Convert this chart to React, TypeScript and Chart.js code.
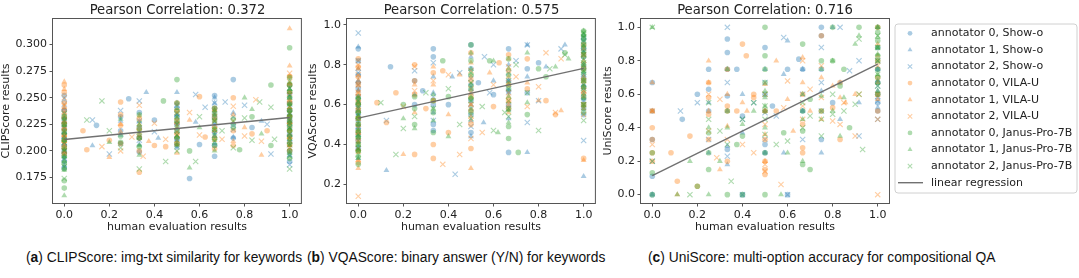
import React, { useEffect, useRef } from 'react';
import { Chart, registerables } from 'chart.js';
import { drawPoint } from 'chart.js/helpers';

Chart.register(...registerables);

// ---------------- data ----------------
const MODELS = ['Show-o', 'VILA-U', 'Janus-Pro-7B'];
const ANNOTATORS = [0, 1, 2];
const REG_LABEL = 'linear regression';
const X_TITLE = 'human evaluation results';
const X_RANGE = [-0.05, 1.05];
const X_TICKS = [0, 0.2, 0.4, 0.6, 0.8, 1.0];
const REG_X = [0, 1];

// Panel (a) CLIPScore
const CLIP_TITLE = 'Pearson Correlation: 0.372';
const CLIP_Y_TITLE = 'CLIPScore results';
const CLIP_Y_RANGE = [0.151, 0.324];
const CLIP_Y_TICKS = [0.175, 0.2, 0.225, 0.25, 0.275, 0.3];
const CLIP_REG = [0.2107, 0.2314];
const CLIP_SHOWO_A0 = [[0,0.252],[0,0.238],[0,0.226],[0,0.221],[0,0.212],[0,0.205],[0,0.197],[0,0.184],[0.143,0.224],[0.25,0.232],[0.25,0.219],[0.286,0.249],[0.333,0.236],[0.333,0.222],[0.333,0.199],[0.4,0.229],[0.5,0.241],[0.5,0.226],[0.5,0.212],[0.556,0.174],[0.6,0.206],[0.667,0.252],[0.667,0.231],[0.667,0.218],[0.667,0.195],[0.75,0.267],[0.75,0.225],[0.75,0.212],[0.833,0.222],[1,0.262],[1,0.245],[1,0.232],[1,0.224],[1,0.208],[1,0.19],[0,0.23],[0,0.216],[0,0.2],[0,0.19],[0.5,0.232],[0.5,0.205],[0.667,0.24],[0.667,0.205],[1,0.254],[1,0.238],[1,0.228],[1,0.215],[1,0.2],[0.333,0.212],[0.25,0.207]];
const CLIP_SHOWO_A1 = [[0,0.248],[0,0.232],[0,0.218],[0,0.207],[0,0.194],[0.125,0.205],[0.25,0.228],[0.333,0.215],[0.333,0.206],[0.364,0.255],[0.417,0.212],[0.5,0.255],[0.5,0.234],[0.5,0.219],[0.5,0.203],[0.583,0.227],[0.667,0.245],[0.667,0.226],[0.667,0.207],[0.75,0.236],[0.75,0.213],[0.875,0.228],[1,0.258],[1,0.24],[1,0.228],[1,0.215],[1,0.196],[0,0.24],[0,0.225],[0,0.212],[0,0.2],[0,0.186],[0.5,0.245],[0.5,0.226],[0.5,0.21],[0.667,0.25],[0.667,0.235],[0.667,0.214],[1,0.25],[1,0.234],[1,0.221],[1,0.205],[0.333,0.228],[0.25,0.215]];
const CLIP_SHOWO_A2 = [[0,0.244],[0,0.229],[0,0.214],[0,0.2],[0.125,0.229],[0.2,0.197],[0.25,0.238],[0.333,0.247],[0.333,0.228],[0.4,0.218],[0.5,0.243],[0.5,0.222],[0.5,0.208],[0.583,0.253],[0.625,0.241],[0.667,0.235],[0.667,0.215],[0.714,0.246],[0.75,0.22],[0.8,0.243],[0.9,0.225],[0.917,0.197],[1,0.252],[1,0.236],[1,0.219],[1,0.187],[0,0.236],[0,0.221],[0,0.207],[0,0.193],[0.5,0.235],[0.5,0.215],[0.667,0.245],[0.667,0.225],[1,0.244],[1,0.228],[1,0.212],[1,0.196],[0.333,0.21],[0.75,0.232]];
const CLIP_VILAU_A0 = [[0,0.262],[0,0.245],[0,0.231],[0,0.22],[0,0.209],[0,0.198],[0.083,0.219],[0.1,0.201],[0.2,0.21],[0.25,0.246],[0.25,0.224],[0.25,0.207],[0.333,0.18],[0.333,0.221],[0.333,0.212],[0.4,0.205],[0.45,0.204],[0.5,0.238],[0.5,0.216],[0.6,0.251],[0.625,0.213],[0.667,0.24],[0.667,0.222],[0.667,0.202],[0.75,0.25],[0.75,0.219],[0.75,0.205],[0.833,0.216],[0.9,0.219],[1,0.27],[1,0.255],[1,0.238],[1,0.226],[1,0.212],[1,0.2],[0,0.255],[0,0.238],[0,0.226],[0,0.214],[0,0.204],[0.5,0.245],[0.5,0.226],[0.5,0.207],[0.667,0.232],[0.667,0.212],[1,0.262],[1,0.246],[1,0.232],[1,0.219],[1,0.206],[0.333,0.23],[0.333,0.2],[0.25,0.234]];
const CLIP_VILAU_A1 = [[0,0.265],[0,0.241],[0,0.227],[0,0.215],[0,0.203],[0.2,0.194],[0.25,0.218],[0.333,0.225],[0.375,0.209],[0.5,0.23],[0.5,0.214],[0.5,0.198],[0.556,0.229],[0.667,0.238],[0.667,0.219],[0.75,0.234],[0.75,0.209],[0.8,0.222],[0.875,0.196],[1,0.315],[1,0.28],[1,0.263],[1,0.247],[1,0.234],[1,0.22],[1,0.205],[0,0.258],[0,0.235],[0,0.222],[0,0.209],[0,0.197],[0.5,0.222],[0.5,0.206],[0.667,0.229],[0.667,0.21],[1,0.27],[1,0.255],[1,0.241],[1,0.227],[1,0.213],[0.333,0.233],[0.333,0.215],[0.25,0.225]];
const CLIP_VILAU_A2 = [[0,0.25],[0,0.233],[0,0.218],[0,0.206],[0.167,0.204],[0.25,0.2],[0.3,0.213],[0.333,0.243],[0.35,0.195],[0.4,0.226],[0.45,0.211],[0.5,0.228],[0.5,0.21],[0.556,0.236],[0.6,0.215],[0.667,0.228],[0.7,0.211],[0.75,0.242],[0.8,0.214],[0.85,0.248],[0.875,0.209],[1,0.273],[1,0.25],[1,0.231],[1,0.217],[1,0.203],[0,0.243],[0,0.225],[0,0.212],[0,0.2],[0.5,0.236],[0.5,0.218],[0.667,0.236],[0.667,0.22],[1,0.265],[1,0.242],[1,0.224],[1,0.21],[0.333,0.218],[0.75,0.228]];
const CLIP_JANUS_A0 = [[0,0.225],[0,0.21],[0,0.195],[0,0.183],[0,0.165],[0.25,0.214],[0.25,0.208],[0.333,0.234],[0.333,0.22],[0.333,0.204],[0.44,0.247],[0.5,0.267],[0.5,0.237],[0.5,0.219],[0.5,0.207],[0.556,0.2],[0.667,0.24],[0.667,0.229],[0.667,0.211],[0.75,0.23],[0.778,0.201],[0.833,0.232],[0.917,0.262],[0.917,0.205],[1,0.269],[1,0.256],[1,0.244],[1,0.233],[1,0.223],[1,0.214],[1,0.193],[1,0.297],[0,0.232],[0,0.218],[0,0.203],[0,0.188],[0,0.172],[0.5,0.245],[0.5,0.228],[0.5,0.212],[0.667,0.235],[0.667,0.22],[0.667,0.205],[1,0.262],[1,0.25],[1,0.238],[1,0.228],[1,0.219],[1,0.207],[1,0.2],[0.333,0.212],[0.75,0.222]];
const CLIP_JANUS_A1 = [[0,0.23],[0,0.217],[0,0.201],[0,0.19],[0,0.158],[0.2,0.208],[0.25,0.23],[0.333,0.217],[0.333,0.196],[0.5,0.232],[0.5,0.213],[0.556,0.184],[0.6,0.222],[0.667,0.233],[0.667,0.214],[0.667,0.2],[0.75,0.226],[0.8,0.25],[0.833,0.239],[0.875,0.216],[1,0.265],[1,0.25],[1,0.238],[1,0.226],[1,0.211],[1,0.198],[0,0.224],[0,0.21],[0,0.195],[0,0.182],[0.5,0.24],[0.5,0.222],[0.5,0.205],[0.667,0.238],[0.667,0.222],[1,0.258],[1,0.244],[1,0.232],[1,0.22],[1,0.205],[0.333,0.224],[0.333,0.205]];
const CLIP_JANUS_A2 = [[0,0.235],[0,0.222],[0,0.208],[0,0.192],[0,0.174],[0.1,0.229],[0.167,0.247],[0.2,0.219],[0.25,0.203],[0.333,0.183],[0.333,0.226],[0.45,0.19],[0.5,0.225],[0.5,0.2],[0.583,0.19],[0.6,0.232],[0.667,0.209],[0.7,0.219],[0.75,0.203],[0.8,0.231],[0.833,0.21],[0.867,0.246],[0.917,0.241],[0.933,0.211],[1,0.259],[1,0.242],[1,0.229],[1,0.216],[1,0.183],[0,0.228],[0,0.214],[0,0.2],[0,0.185],[0.5,0.232],[0.5,0.215],[0.667,0.228],[0.667,0.217],[1,0.253],[1,0.235],[1,0.222],[1,0.209],[1,0.195],[0.333,0.213]];

// Panel (b) VQAScore
const VQA_TITLE = 'Pearson Correlation: 0.575';
const VQA_Y_TITLE = 'VQAScore results';
const VQA_Y_RANGE = [0.106, 1.03];
const VQA_Y_TICKS = [0.2, 0.4, 0.6, 0.8, 1.0];
const VQA_REG = [0.532, 0.782];
const VQA_SHOWO_A0 = [[0,0.88],[0,0.75],[0,0.68],[0,0.6],[0,0.52],[0,0.45],[0,0.38],[0.143,0.79],[0.25,0.72],[0.25,0.6],[0.286,0.67],[0.333,0.88],[0.333,0.84],[0.333,0.5],[0.333,0.47],[0.4,0.6],[0.5,0.9],[0.5,0.78],[0.5,0.62],[0.5,0.55],[0.5,0.46],[0.533,0.71],[0.6,0.65],[0.667,0.88],[0.667,0.72],[0.667,0.6],[0.667,0.36],[0.75,0.78],[0.75,0.66],[0.8,0.81],[1,0.93],[1,0.84],[1,0.73],[1,0.58],[1,0.55],[0,0.82],[0,0.71],[0,0.64],[0,0.56],[0,0.48],[0,0.42],[1,0.88],[1,0.78],[1,0.69],[1,0.63],[0.5,0.7],[0.667,0.67],[0.333,0.6]];
const VQA_SHOWO_A1 = [[0,0.89],[0,0.72],[0,0.62],[0,0.55],[0,0.43],[0,0.33],[0.125,0.27],[0.25,0.65],[0.333,0.74],[0.333,0.56],[0.417,0.74],[0.5,0.84],[0.5,0.68],[0.5,0.52],[0.5,0.44],[0.556,0.51],[0.6,0.72],[0.667,0.8],[0.667,0.66],[0.667,0.53],[0.75,0.9],[0.75,0.36],[0.75,0.74],[0.833,0.79],[0.917,0.9],[1,0.95],[1,0.86],[1,0.7],[1,0.6],[1,0.24],[0,0.78],[0,0.67],[0,0.58],[0,0.5],[0,0.38],[1,0.9],[1,0.8],[1,0.75],[1,0.65],[0.5,0.6],[0.667,0.72],[0.333,0.66]];
const VQA_SHOWO_A2 = [[0,0.96],[0,0.82],[0,0.7],[0,0.58],[0,0.49],[0,0.4],[0.125,0.52],[0.25,0.77],[0.333,0.81],[0.333,0.64],[0.43,0.25],[0.45,0.76],[0.5,0.73],[0.5,0.58],[0.5,0.49],[0.56,0.84],[0.583,0.66],[0.6,0.8],[0.667,0.76],[0.667,0.58],[0.7,0.82],[0.75,0.51],[0.75,0.9],[0.8,0.62],[0.9,0.88],[1,0.92],[1,0.8],[1,0.67],[1,0.42],[0,0.76],[0,0.64],[0,0.54],[0,0.45],[1,0.87],[1,0.75],[1,0.62],[0.5,0.66],[0.667,0.68],[0.333,0.52]];
const VQA_VILAU_A0 = [[0,0.83],[0,0.74],[0,0.65],[0,0.57],[0,0.5],[0,0.42],[0,0.31],[0.083,0.61],[0.125,0.51],[0.167,0.66],[0.25,0.65],[0.25,0.35],[0.25,0.8],[0.3,0.58],[0.333,0.4],[0.333,0.33],[0.333,0.76],[0.375,0.77],[0.4,0.46],[0.5,0.86],[0.5,0.64],[0.5,0.5],[0.5,0.38],[0.6,0.59],[0.625,0.81],[0.667,0.85],[0.667,0.7],[0.667,0.62],[0.75,0.83],[0.75,0.68],[0.833,0.62],[0.875,0.55],[1,0.9],[1,0.78],[1,0.66],[1,0.33],[0,0.79],[0,0.7],[0,0.61],[0,0.53],[0,0.46],[0,0.37],[1,0.85],[1,0.72],[1,0.6],[0.5,0.72],[0.5,0.57],[0.667,0.77],[0.667,0.58],[0.25,0.72],[0.333,0.62]];
const VQA_VILAU_A1 = [[0,0.78],[0,0.67],[0,0.59],[0,0.46],[0,0.36],[0,0.28],[0.2,0.35],[0.25,0.7],[0.25,0.56],[0.333,0.79],[0.333,0.62],[0.4,0.55],[0.45,0.75],[0.5,0.81],[0.5,0.66],[0.5,0.28],[0.5,0.54],[0.583,0.76],[0.667,0.83],[0.667,0.64],[0.667,0.56],[0.75,0.71],[0.8,0.62],[0.9,0.57],[1,0.88],[1,0.74],[1,0.64],[1,0.32],[0,0.72],[0,0.63],[0,0.54],[0,0.41],[0,0.32],[1,0.82],[1,0.69],[1,0.58],[0.5,0.74],[0.5,0.6],[0.667,0.74],[0.667,0.6],[0.333,0.7]];
const VQA_VILAU_A2 = [[0,0.8],[0,0.7],[0,0.61],[0,0.53],[0,0.44],[0,0.14],[0.2,0.59],[0.25,0.79],[0.25,0.67],[0.333,0.72],[0.375,0.3],[0.4,0.75],[0.45,0.35],[0.5,0.77],[0.5,0.6],[0.5,0.43],[0.55,0.46],[0.6,0.7],[0.667,0.79],[0.667,0.66],[0.7,0.74],[0.75,0.59],[0.8,0.69],[0.833,0.86],[0.875,0.56],[0.9,0.83],[1,0.85],[1,0.72],[1,0.55],[0,0.75],[0,0.66],[0,0.57],[0,0.48],[0,0.38],[1,0.8],[1,0.67],[1,0.6],[0.5,0.68],[0.5,0.52],[0.667,0.71],[0.667,0.62]];
const VQA_JANUS_A0 = [[0,0.6],[0,0.53],[0,0.47],[0,0.4],[0,0.34],[0.2,0.6],[0.25,0.5],[0.25,0.64],[0.333,0.56],[0.333,0.46],[0.375,0.82],[0.4,0.64],[0.5,0.9],[0.5,0.75],[0.5,0.63],[0.5,0.56],[0.583,0.82],[0.667,0.83],[0.667,0.68],[0.667,0.49],[0.667,0.43],[0.71,0.36],[0.75,0.55],[0.8,0.78],[0.833,0.74],[0.917,0.86],[1,0.97],[1,0.93],[1,0.87],[1,0.8],[1,0.72],[1,0.64],[1,0.6],[0,0.63],[0,0.56],[0,0.5],[0,0.44],[0,0.37],[0,0.3],[1,0.95],[1,0.9],[1,0.84],[1,0.77],[1,0.69],[1,0.56],[0.5,0.82],[0.5,0.68],[0.667,0.75],[0.667,0.58],[0.333,0.62],[0.25,0.58]];
const VQA_JANUS_A1 = [[0,0.64],[0,0.57],[0,0.5],[0,0.44],[0,0.37],[0.2,0.53],[0.25,0.48],[0.333,0.65],[0.333,0.52],[0.4,0.44],[0.5,0.86],[0.5,0.7],[0.5,0.58],[0.6,0.82],[0.62,0.46],[0.667,0.78],[0.667,0.64],[0.667,0.51],[0.75,0.61],[0.75,0.86],[0.875,0.79],[0.933,0.83],[1,0.95],[1,0.89],[1,0.82],[1,0.76],[1,0.68],[1,0.58],[0,0.61],[0,0.54],[0,0.47],[0,0.4],[0,0.33],[1,0.97],[1,0.92],[1,0.86],[1,0.79],[1,0.72],[1,0.63],[0.5,0.78],[0.5,0.64],[0.667,0.7],[0.667,0.57],[0.333,0.58]];
const VQA_JANUS_A2 = [[0,0.62],[0,0.55],[0,0.42],[0,0.35],[0.1,0.61],[0.167,0.35],[0.2,0.48],[0.25,0.54],[0.3,0.66],[0.333,0.58],[0.4,0.68],[0.45,0.5],[0.5,0.71],[0.5,0.53],[0.55,0.59],[0.6,0.47],[0.65,0.56],[0.667,0.62],[0.7,0.8],[0.75,0.66],[0.8,0.47],[0.85,0.78],[0.917,0.85],[1,0.94],[1,0.85],[1,0.77],[1,0.7],[1,0.52],[0,0.59],[0,0.52],[0,0.45],[0,0.38],[1,0.96],[1,0.9],[1,0.81],[1,0.74],[1,0.66],[1,0.6],[0.5,0.76],[0.5,0.62],[0.667,0.72],[0.667,0.54]];

// Panel (c) UniScore
const UNI_TITLE = 'Pearson Correlation: 0.716';
const UNI_Y_TITLE = 'UniScore results';
const UNI_Y_RANGE = [-0.05, 1.05];
const UNI_Y_TICKS = [0, 0.2, 0.4, 0.6, 0.8, 1.0];
const UNI_REG = [0.113, 0.78];
const UNI_SHOWO_A0 = [[0,0.67],[0,0.33],[0,0.11],[0.133,0.45],[0.2,0.6],[0.25,0.75],[0.25,0.63],[0.333,0.93],[0.333,0.85],[0.333,0.59],[0.333,0.27],[0.375,0.75],[0.4,0.47],[0.4,0.0],[0.5,0.88],[0.5,0.3],[0.5,0.25],[0.533,0.53],[0.6,0.75],[0.65,0.81],[0.667,0.75],[0.75,1.0],[0.75,0.95],[0.8,0.55],[0.75,0.33],[1,0.6],[1,0.75],[1,0.5],[0,0.0],[0,0.5],[1,0.88],[1,0.67],[1,0.55],[0.5,0.6],[0.25,0.5],[0.667,0.5],[0.333,0.75],[0.75,0.75],[0.6,0.0]];
const UNI_SHOWO_A1 = [[0,0.0],[0.25,0.55],[0.333,0.29],[0.4,0.37],[0.5,0.25],[0.5,0.5],[0.583,0.25],[0.6,0.92],[0.667,0.75],[0.75,0.62],[0.8,1.0],[0.833,0.45],[0.917,0.55],[1,0.68],[1,0.58],[1,0.52],[0.583,0.72],[0.333,0.18],[1,1.0],[1,0.75],[1,0.62],[0.5,0.75],[0.667,0.5],[0.333,0.5],[0.25,0.25],[0.75,0.25],[0.833,0.67],[0.4,0.6]];
const UNI_SHOWO_A2 = [[0,0.2],[0.125,0.5],[0.333,1.0],[0.333,0.23],[0.4,0.45],[0.5,0.49],[0.5,0.33],[0.55,0.47],[0.583,0.94],[0.6,0.0],[0.667,0.6],[0.75,0.88],[0.75,0.5],[0.833,1.0],[0.875,0.74],[0.917,0.35],[1,0.56],[1,0.45],[0.45,0.55],[1,0.8],[1,0.65],[0.5,0.67],[0.667,0.33],[0.333,0.67],[0.25,0.33],[0.75,0.67],[0.4,0.0],[0.917,0.8],[0.2,0.55]];
const UNI_VILAU_A0 = [[0,0.4],[0,0.33],[0,0.25],[0.083,0.25],[0.111,0.08],[0.167,0.35],[0.2,0.05],[0.25,0.67],[0.25,0.58],[0.25,0.48],[0.333,0.53],[0.333,0.75],[0.333,0.5],[0.375,0.5],[0.4,0.9],[0.417,0.83],[0.45,0.58],[0.5,0.2],[0.5,0.15],[0.5,0.12],[0.55,0.5],[0.667,0.28],[0.667,0.25],[0.75,0.95],[0.8,0.52],[0.833,0.67],[1,0.5],[1,0.7],[0.45,0.6],[0,0.2],[0,0.5],[1,1.0],[1,0.6],[1,0.8],[0.5,0.5],[0.5,0.33],[0.667,0.6],[0.667,0.42],[0.25,0.33],[0.333,0.2],[0.75,0.5],[0.833,0.33]];
const UNI_VILAU_A1 = [[0,0.5],[0.111,0.0],[0.25,0.5],[0.25,0.8],[0.333,0.41],[0.4,0.55],[0.42,0.5],[0.5,0.66],[0.5,0.36],[0.55,0.8],[0.625,0.38],[0.667,0.82],[0.7,0.5],[0.75,0.7],[0.8,0.65],[0.857,0.55],[0.9,0.6],[1,0.83],[1,0.57],[0.3,0.15],[0,0.67],[1,0.9],[1,0.67],[0.5,0.5],[0.5,0.2],[0.667,0.67],[0.333,0.6],[0.25,0.67],[0.75,0.45],[0.833,0.58],[0.6,0.57]];
const UNI_VILAU_A2 = [[0,0.5],[0.25,0.38],[0.286,0.22],[0.3,0.57],[0.4,0.3],[0.5,0.18],[0.571,0.06],[0.583,0.52],[0.6,0.68],[0.667,0.53],[0.7,0.63],[0.75,0.77],[0.8,0.44],[0.85,0.55],[0.9,0.35],[0.917,0.6],[1,0.45],[1,0.0],[0.667,0.8],[0.5,0.14],[0,0.3],[1,0.77],[1,0.6],[0.5,0.6],[0.5,0.42],[0.667,0.45],[0.333,0.33],[0.25,0.6],[0.75,0.58],[0.833,0.42],[0.45,0.25]];
const UNI_JANUS_A0 = [[0,0.0],[0,0.13],[0.2,0.05],[0.25,0.15],[0.25,0.25],[0.333,0.0],[0.375,0.3],[0.4,0.35],[0.4,0.0],[0.5,1.0],[0.5,0.83],[0.5,0.5],[0.5,0.0],[0.583,0.37],[0.667,0.38],[0.667,0.18],[0.7,0.15],[0.75,0.5],[0.8,0.8],[0.833,0.65],[0.875,0.4],[0.917,1.0],[1,1.0],[1,0.92],[1,0.83],[1,0.75],[1,0.67],[0.85,0.75],[0.7,0.57],[0,0.25],[1,0.97],[1,0.88],[1,0.8],[1,0.7],[1,0.6],[0.5,0.67],[0.5,0.25],[0.5,0.75],[0.667,0.5],[0.667,0.9],[0.75,0.8],[0.333,0.5],[0.25,0.37],[0.8,1.0]];
const UNI_JANUS_A1 = [[0,1.0],[0.111,0.0],[0.25,0.0],[0.3,0.2],[0.333,0.75],[0.4,0.42],[0.45,0.5],[0.5,0.53],[0.5,0.58],[0.571,0.0],[0.6,0.25],[0.667,0.45],[0.667,0.2],[0.75,0.59],[0.8,0.8],[0.833,0.35],[0.85,0.58],[0.9,0.9],[1,0.94],[1,0.88],[1,0.62],[0.167,0.2],[1,1.0],[1,0.84],[1,0.72],[0.5,0.62],[0.5,0.4],[0.667,0.6],[0.75,0.75],[0.333,0.4],[0.25,0.4],[0.8,0.5],[0.917,0.95]];
const UNI_JANUS_A2 = [[0,1.0],[0,0.2],[0.167,0.0],[0.25,0.55],[0.3,0.38],[0.35,0.08],[0.4,0.45],[0.45,0.55],[0.5,0.45],[0.5,0.53],[0.55,0.3],[0.6,0.32],[0.667,0.4],[0.7,0.47],[0.75,0.35],[0.8,0.48],[0.85,0.5],[0.9,0.54],[0.917,0.93],[0.933,0.27],[1,0.88],[1,0.72],[1,0.95],[1,0.8],[1,0.65],[0.5,0.6],[0.5,0.36],[0.667,0.55],[0.75,0.45],[0.333,0.3],[0.25,0.45],[0.8,0.6],[0.917,0.6]];

const CAPTIONS = [
  ['a', ' CLIPScore: img-txt similarity for keywords'],
  ['b', ' VQAScore: binary answer (Y/N) for keywords'],
  ['c', ' UniScore: multi-option accuracy for compositional QA'],
];

// ---------------- styles ----------------
const COLORS = ['rgba(31,119,180,0.38)', 'rgba(255,127,14,0.38)', 'rgba(44,160,44,0.38)'];
const MARKERS = ['circle', 'triangle', 'crossRot'];
const MARKER_RADIUS = [2.8, 3.4, 3.7];
const TEXT = '#222';
const SPINE = '#555';
const FONT = '"DejaVu Sans", sans-serif';

const PANELS = [
  { title: CLIP_TITLE, yTitle: CLIP_Y_TITLE, yRange: CLIP_Y_RANGE, yTicks: CLIP_Y_TICKS, yDigits: 3, reg: CLIP_REG,
    series: [CLIP_SHOWO_A0, CLIP_SHOWO_A1, CLIP_SHOWO_A2, CLIP_VILAU_A0, CLIP_VILAU_A1, CLIP_VILAU_A2, CLIP_JANUS_A0, CLIP_JANUS_A1, CLIP_JANUS_A2],
    left: 0, width: 306, yAxisWidth: 53, padRight: 4, legend: false },
  { title: VQA_TITLE, yTitle: VQA_Y_TITLE, yRange: VQA_Y_RANGE, yTicks: VQA_Y_TICKS, yDigits: 1, reg: VQA_REG,
    series: [VQA_SHOWO_A0, VQA_SHOWO_A1, VQA_SHOWO_A2, VQA_VILAU_A0, VQA_VILAU_A1, VQA_VILAU_A2, VQA_JANUS_A0, VQA_JANUS_A1, VQA_JANUS_A2],
    left: 307, width: 293, yAxisWidth: 40, padRight: 4, legend: false },
  { title: UNI_TITLE, yTitle: UNI_Y_TITLE, yRange: UNI_Y_RANGE, yTicks: UNI_Y_TICKS, yDigits: 1, reg: UNI_REG,
    series: [UNI_SHOWO_A0, UNI_SHOWO_A1, UNI_SHOWO_A2, UNI_VILAU_A0, UNI_VILAU_A1, UNI_VILAU_A2, UNI_JANUS_A0, UNI_JANUS_A1, UNI_JANUS_A2],
    left: 602, width: 477, yAxisWidth: 39, padRight: 190, legend: true },
];
const CANVAS_H = 234;
const PAD_TOP = 19;
const X_AXIS_H = 31;

const framePlugin = {
  id: 'frame',
  afterDatasetsDraw(chart: any) {
    const { ctx, chartArea: a } = chart;
    ctx.save();
    ctx.strokeStyle = SPINE;
    ctx.lineWidth = 1;
    ctx.strokeRect(a.left - 0.5, a.top - 0.5, a.right - a.left + 1, a.bottom - a.top + 1);
    ctx.restore();
  },
};

const boxLegendPlugin = {
  id: 'boxLegend',
  afterDraw(chart: any, _args: any, opts: any) {
    if (!opts || !opts.display) return;
    const ctx = chart.ctx;
    const { x, y, w, h, r } = opts.box;
    ctx.save();
    ctx.beginPath();
    ctx.moveTo(x + r, y);
    ctx.lineTo(x + w - r, y);
    ctx.arcTo(x + w, y, x + w, y + r, r);
    ctx.lineTo(x + w, y + h - r);
    ctx.arcTo(x + w, y + h, x + w - r, y + h, r);
    ctx.lineTo(x + r, y + h);
    ctx.arcTo(x, y + h, x, y + h - r, r);
    ctx.lineTo(x, y + r);
    ctx.arcTo(x, y, x + r, y, r);
    ctx.closePath();
    ctx.fillStyle = 'rgba(255,255,255,0.8)';
    ctx.fill();
    ctx.strokeStyle = '#d0d0d0';
    ctx.lineWidth = 1;
    ctx.stroke();
    chart.data.datasets.forEach((ds: any, i: number) => {
      const cy = opts.firstRow + i * opts.rowGap;
      if (ds.type === 'line') {
        ctx.strokeStyle = ds.borderColor;
        ctx.lineWidth = ds.borderWidth;
        ctx.beginPath();
        ctx.moveTo(opts.lineX0, cy);
        ctx.lineTo(opts.lineX1, cy);
        ctx.stroke();
      } else {
        ctx.fillStyle = ds.pointBackgroundColor;
        ctx.strokeStyle = ds.pointBorderColor;
        ctx.lineWidth = ds.pointBorderWidth;
        drawPoint(ctx, { pointStyle: ds.pointStyle, radius: ds.pointRadius * opts.markerScale, rotation: 0, borderWidth: ds.pointBorderWidth } as any, opts.markerX, cy);
      }
      ctx.fillStyle = TEXT;
      ctx.font = `11px ${FONT}`;
      ctx.textBaseline = 'middle';
      ctx.textAlign = 'left';
      ctx.fillText(ds.label, opts.textX, cy);
    });
    ctx.restore();
  },
};

function buildChart(canvas: HTMLCanvasElement, p: any) {
  const datasets: any[] = p.series.map((pts: number[][], k: number) => {
    const m = Math.floor(k / 3);
    const a = k % 3;
    const cross = MARKERS[a] === 'crossRot';
    return {
      type: 'scatter',
      label: `annotator ${ANNOTATORS[a]}, ${MODELS[m]}`,
      data: pts.map(([x, y]) => ({ x, y })),
      pointStyle: MARKERS[a],
      pointRadius: MARKER_RADIUS[a],
      pointBackgroundColor: COLORS[m],
      pointBorderColor: COLORS[m],
      pointBorderWidth: cross ? 1.1 : 0,
      backgroundColor: COLORS[m],
      borderColor: COLORS[m],
      showLine: false,
      order: 20 - k,
    };
  });
  datasets.push({
    type: 'line',
    label: REG_LABEL,
    data: [{ x: REG_X[0], y: p.reg[0] }, { x: REG_X[1], y: p.reg[1] }],
    borderColor: 'rgba(105,105,105,0.95)',
    borderWidth: 1.4,
    pointRadius: 0,
    fill: false,
    order: 0,
  });
  const tickFont = { family: FONT, size: 11 };
  const gridOpts = { display: true, drawOnChartArea: false, drawTicks: true, tickLength: 3.5, color: SPINE, lineWidth: 1 };
  return new Chart(canvas, {
    type: 'scatter',
    data: { datasets },
    plugins: p.legend ? [framePlugin, boxLegendPlugin] : [framePlugin],
    options: {
      animation: false,
      responsive: false,
      events: [],
      layout: { padding: { left: 0, top: PAD_TOP, right: p.padRight, bottom: 0 } },
      plugins: {
        legend: { display: false },
        tooltip: { enabled: false },
        title: { display: false },
        boxLegend: p.legend
          ? { display: true, box: { x: 293, y: 24, w: 182, h: 169, r: 3 }, firstRow: 33.3, rowGap: 16.6, markerX: 308, markerScale: 0.85, lineX0: 296, lineX1: 321, textX: 329 }
          : { display: false },
      } as any,
      scales: {
        x: {
          type: 'linear',
          min: X_RANGE[0],
          max: X_RANGE[1],
          afterBuildTicks: (s: any) => { s.ticks = X_TICKS.map((v) => ({ value: v })); },
          afterFit: (s: any) => { s.height = X_AXIS_H; },
          ticks: { callback: (v: any) => Number(v).toFixed(1), font: tickFont, color: TEXT, padding: 2, autoSkip: false, maxRotation: 0 },
          grid: gridOpts,
          border: { display: false },
          title: { display: true, text: X_TITLE, font: { family: FONT, size: 11 }, color: TEXT, padding: 0 },
        },
        y: {
          type: 'linear',
          min: p.yRange[0],
          max: p.yRange[1],
          afterBuildTicks: (s: any) => { s.ticks = p.yTicks.map((v: number) => ({ value: v })); },
          afterFit: (s: any) => { s.width = p.yAxisWidth; },
          ticks: { callback: (v: any) => Number(v).toFixed(p.yDigits), font: tickFont, color: TEXT, padding: 2.5, autoSkip: false },
          grid: gridOpts,
          border: { display: false },
          title: { display: true, text: p.yTitle, font: { family: FONT, size: 11 }, color: TEXT, padding: 0 },
        },
      },
    } as any,
  });
}

export default function App() {
  const refs = [useRef<HTMLCanvasElement>(null), useRef<HTMLCanvasElement>(null), useRef<HTMLCanvasElement>(null)];
  useEffect(() => {
    const charts = PANELS.map((p, i) => buildChart(refs[i].current as HTMLCanvasElement, p));
    return () => charts.forEach((c) => c.destroy());
  }, []);
  const capLefts = [26, 307, 648];
  return (
    <div style={{ position: 'absolute', left: 0, top: 0, width: 1079, height: 278, background: '#fff', overflow: 'hidden' }}>
      {PANELS.map((p, i) => {
        const plotLeft = p.left + p.yAxisWidth;
        const plotW = p.width - p.yAxisWidth - p.padRight;
        return (
          <React.Fragment key={i}>
            <canvas ref={refs[i]} width={p.width} height={CANVAS_H}
              style={{ position: 'absolute', left: p.left, top: 0, width: p.width, height: CANVAS_H }} />
            <div style={{ position: 'absolute', left: plotLeft, top: 2, width: plotW, textAlign: 'center', fontFamily: FONT, fontSize: 13.2, lineHeight: '16px', color: TEXT, whiteSpace: 'nowrap' }}>
              {p.title}
            </div>
          </React.Fragment>
        );
      })}
      {CAPTIONS.map(([letter, text], i) => (
        <div key={'c' + i} style={{ position: 'absolute', left: capLefts[i], top: 250, fontFamily: '"Liberation Sans", Arial, sans-serif', fontSize: 13.8, lineHeight: '16px', color: '#111', whiteSpace: 'nowrap' }}>
          (<b>{letter}</b>){text}
        </div>
      ))}
    </div>
  );
}
